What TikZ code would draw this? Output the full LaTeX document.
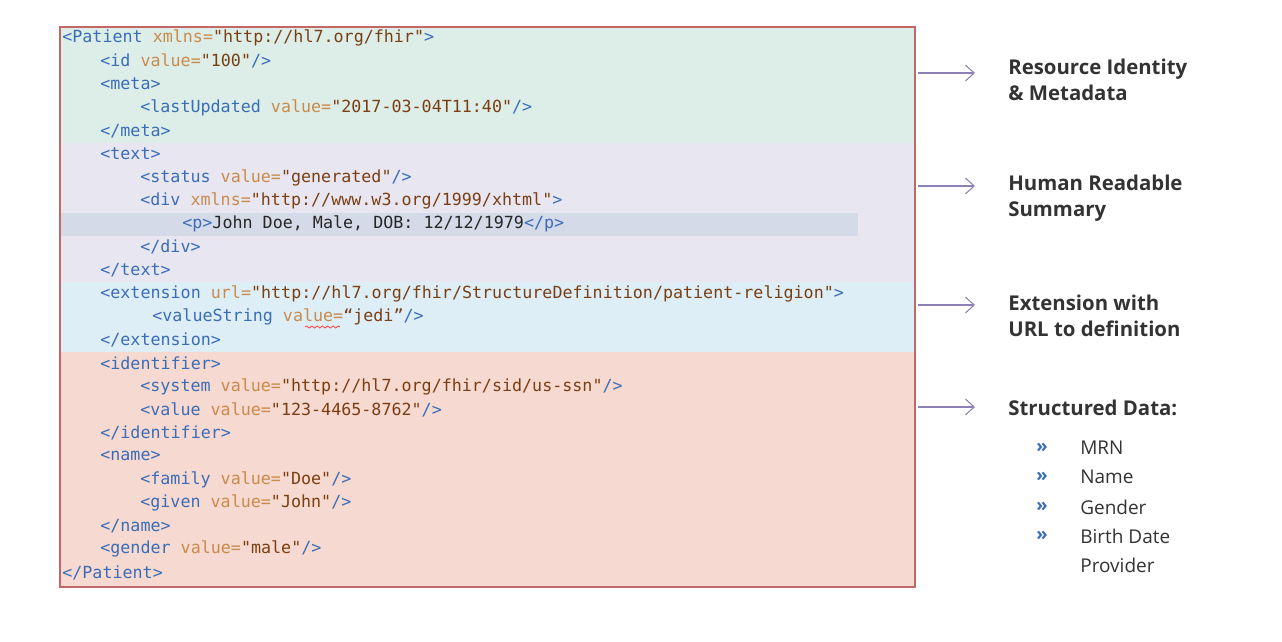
\documentclass[tikz,border=0pt]{standalone}
\usepackage{fontspec}
\setmonofont{DejaVu Sans Mono}
\setsansfont{Open Sans}
\usetikzlibrary{decorations.pathmorphing,arrows.meta}
\definecolor{tagc}{HTML}{3A6DB8}
\definecolor{attc}{HTML}{C98A4B}
\definecolor{valc}{HTML}{7A3E12}
\definecolor{bandA}{HTML}{DDEEE8}
\definecolor{bandB}{HTML}{E8E6F1}
\definecolor{bandC}{HTML}{DDEEF6}
\definecolor{bandD}{HTML}{F6D9D0}
\definecolor{rowp}{HTML}{D5DAE8}
\definecolor{arrc}{HTML}{8C80B4}
\newcommand{\tg}[1]{\textcolor{tagc}{#1}}
\newcommand{\at}[1]{\textcolor{attc}{#1}}
\newcommand{\vl}[1]{\textcolor{valc}{#1}}
\tikzset{
  code/.style={anchor=west,inner sep=0pt,font=\fontsize{9.5}{11}\ttfamily,text=black!85},
  lbl/.style={anchor=west,inner sep=0pt,align=left,font=\fontsize{11.6}{14.5}\sffamily\bfseries,text=black!80},
  item/.style={anchor=west,inner sep=0pt,font=\fontsize{10.8}{12}\sffamily,text=black!80},
  bullet/.style={anchor=west,inner sep=0pt,font=\fontsize{10.5}{12}\sffamily\bfseries,text=tagc},
  pointer/.style={-{Straight Barb[length=5pt,width=9pt]},arrc,line width=0.6pt}
}
\begin{document}
\begin{tikzpicture}[x=0.02cm,y=-0.02cm]
   \useasboundingbox (0,0) rectangle (1282,642);
   % Bänder
   \fill[bandA] (60,27) rectangle (915,143);
   \fill[bandB] (60,143) rectangle (915,282);
   \fill[rowp] (60,213) rectangle (858,236);
   \fill[bandC] (60,282) rectangle (915,352);
   \fill[bandD] (60,352) rectangle (915,587);
   \draw[red!60!black!60,line width=0.6pt] (60,27) rectangle (915,587);

   % Code
   \node[code] (l1) at (62,38) {\tg{<Patient} \at{xmlns=}\vl{"http://hl7.org/fhir"}\tg{>}};
   \node[code] (l2) at (100,61) {\tg{<id} \at{value=}\vl{"100"}\tg{/>}};
   \node[code] (l3) at (100,84) {\tg{<meta>}};
   \node[code] (l4) at (140,108) {\tg{<lastUpdated} \at{value=}\vl{"2017-03-04T11:40"}\tg{/>}};
   \node[code] (l5) at (100,131) {\tg{</meta>}};
   \node[code] (l6) at (100,154) {\tg{<text>}};
   \node[code] (l7) at (140,178) {\tg{<status} \at{value=}\vl{"generated"}\tg{/>}};
   \node[code] (l8) at (140,201) {\tg{<div} \at{xmlns=}\vl{"http://www.w3.org/1999/xhtml"}\tg{>}};
   \node[code] (l9) at (182,224) {\tg{<p>}John Doe, Male, DOB: 12/12/1979\tg{</p>}};
   \node[code] (l10) at (140,247) {\tg{</div>}};
   \node[code] (l11) at (100,270) {\tg{</text>}};
   \node[code] (l12) at (100,294) {\tg{<extension} \at{url=}\vl{"http://hl7.org/fhir/StructureDefinition/patient-religion"}\tg{>}};
   \node[code] (l13) at (152,317) {\tg{<valueString} \at{value=}\vl{“jedi”}\tg{/>}};
   \draw[red!80,line width=0.4pt,decorate,decoration={snake,amplitude=0.6pt,segment length=3pt}] (305,327) -- (340,327);
   \node[code] (l14) at (100,340) {\tg{</extension>}};
   \node[code] (l15) at (100,363) {\tg{<identifier>}};
   \node[code] (l16) at (140,387) {\tg{<system} \at{value=}\vl{"http://hl7.org/fhir/sid/us-ssn"}\tg{/>}};
   \node[code] (l17) at (140,410) {\tg{<value} \at{value=}\vl{"123-4465-8762"}\tg{/>}};
   \node[code] (l18) at (100,433) {\tg{</identifier>}};
   \node[code] (l19) at (100,456) {\tg{<name>}};
   \node[code] (l20) at (140,480) {\tg{<family} \at{value=}\vl{"Doe"}\tg{/>}};
   \node[code] (l21) at (140,503) {\tg{<given} \at{value=}\vl{"John"}\tg{/>}};
   \node[code] (l22) at (100,526) {\tg{</name>}};
   \node[code] (l23) at (100,549) {\tg{<gender} \at{value=}\vl{"male"}\tg{/>}};
   \node[code] (l24) at (62,573) {\tg{</Patient>}};

   % Beschriftungen
   \node[lbl] (identity) at (1008,80) {Resource Identity\\\& Metadata};
   \node[lbl] (summary) at (1008,198) {Human Readable\\Summary};
   \node[lbl] (ext) at (1008,316) {Extension with\\URL to definition};
   \node[lbl] (structured) at (1008,408) {Structured Data:};
   \draw[pointer] (918,73) -- (975,73);
   \draw[pointer] (918,186) -- (975,186);
   \draw[pointer] (918,305) -- (975,305);
   \draw[pointer] (918,407) -- (975,407);

   \foreach \y/\t [count=\i] in {448/MRN,477/Name,507/Gender,536/Birth Date,565/Provider}{
     \node[item] (it\i) at (1080,\y) {\t};
   }
   \foreach \y in {448,477,507,536}{
     \node[bullet] at (1036,\y) {»};
   }
\end{tikzpicture}
\end{document}
